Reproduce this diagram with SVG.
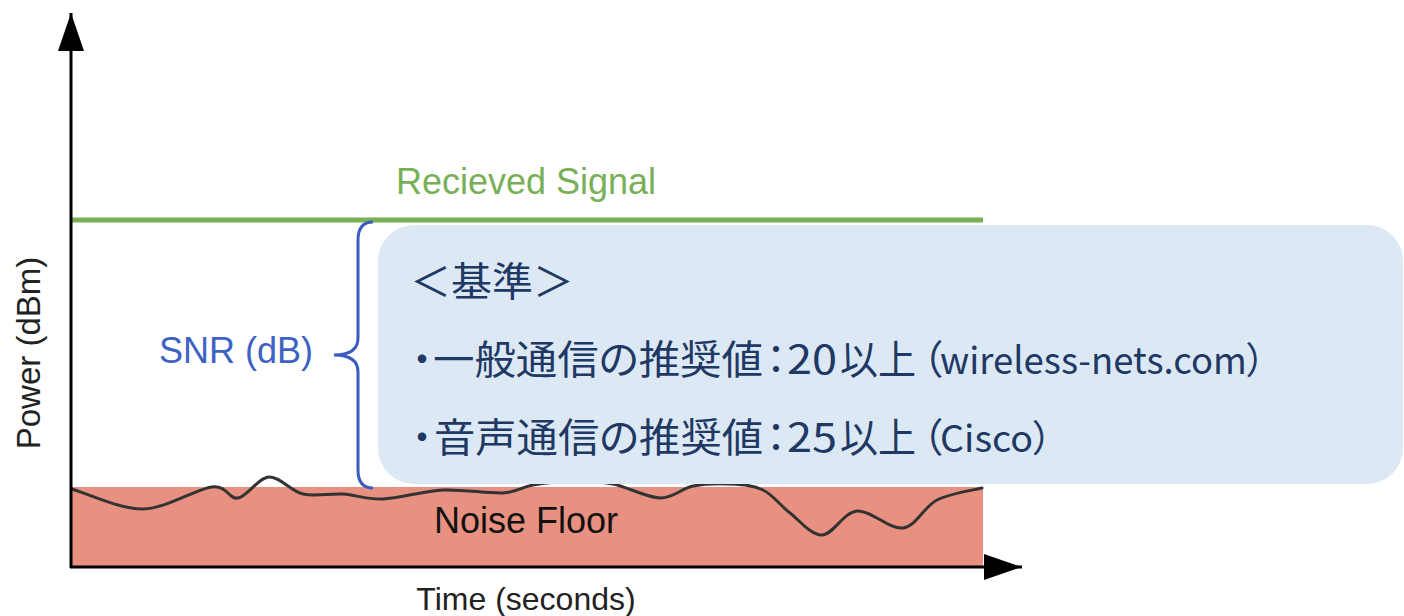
<svg xmlns="http://www.w3.org/2000/svg" width="1404" height="616" viewBox="0 0 1404 616">
<style>
.lbl{font-family:"Liberation Sans",Arial,sans-serif;}
.jp{font-family:"Noto Sans CJK JP","Noto Sans",sans-serif;font-size:40px;fill:#203864;}
.palt{font-feature-settings:"palt" 1;}
.lat{font-size:37px;}
.axis{stroke:#000;stroke-width:3;fill:none;}
</style>
<defs>
<marker id="arr" markerUnits="userSpaceOnUse" markerWidth="40" markerHeight="26" refX="38" refY="13" orient="auto">
<path d="M0,0 L38,13 L0,26 Z" fill="#000"/>
</marker>
</defs>
<rect width="1404" height="616" fill="#fff"/>
<g id="noise-floor">
<rect x="71" y="487" width="912" height="80" fill="#e89181"/>
<path d="M72,489 C83.8,492.3 119.7,509.3 143,509 C166.3,508.7 196.2,488.8 212,487 C227.8,485.2 228.5,499.7 238,498 C247.5,496.3 258.2,477.7 269,477 C279.8,476.3 290.7,491.2 303,494 C315.3,496.8 329.7,493.2 343,494 C356.3,494.8 366.3,499.7 383,499 C399.7,498.3 423,491 443,490 C463,489 488,493.8 503,493 C518,492.2 521,487 533,485 C545,483 561.7,481.2 575,481 C588.3,480.8 598.8,481.2 613,484 C627.2,486.8 646.7,497.7 660,498 C673.3,498.3 681.3,488.3 693,486 C704.7,483.7 718.3,483.3 730,484 C741.7,484.7 753,485.2 763,490 C773,494.8 780.2,505.5 790,513 C799.8,520.5 810.8,535.3 822,535 C833.2,534.7 843.5,512.2 857,511 C870.5,509.8 889.7,529.8 903,528 C916.3,526.2 923.8,506.7 937,500 C950.2,493.3 974.5,490 982,488" fill="none" stroke="#333" stroke-width="3" stroke-linejoin="round" stroke-linecap="round"/>
<text class="lbl" x="526" y="533" font-size="36" fill="#111" text-anchor="middle">Noise Floor</text>
</g>
<g id="signal">
<line x1="71" y1="220" x2="983" y2="220" stroke="#78b057" stroke-width="5"/>
<text class="lbl" x="526" y="194" font-size="36" fill="#78b057" text-anchor="middle">Recieved Signal</text>
</g>
<g id="connectors">
<line class="axis" x1="71" y1="568" x2="71" y2="13" marker-end="url(#arr)"/>
<line class="axis" x1="70" y1="567" x2="1022" y2="567" marker-end="url(#arr)"/>
<path d="M373,222 Q358,222 358,240 L358,338 Q358,355 334,355 Q358,355 358,372 L358,470 Q358,488 373,488" fill="none" stroke="#3a5bbf" stroke-width="3"/>
</g>
<g id="axis-labels">
<text class="lbl" x="526" y="610" font-size="32" fill="#222" text-anchor="middle">Time (seconds)</text>
<text class="lbl" transform="translate(40,353) rotate(-90)" x="0" y="0" font-size="33" fill="#222" text-anchor="middle">Power (dBm)</text>
</g>
<g id="snr">
<text class="lbl" x="236" y="363" font-size="36" fill="#3d62c4" text-anchor="middle">SNR (dB)</text>
</g>
<g id="callout">
<rect x="378" y="225" width="1025" height="259" rx="36" ry="36" fill="#dde8f5"/>
<text class="jp" y="296"><tspan x="410" textLength="164" lengthAdjust="spacingAndGlyphs">＜基準＞</tspan></text>
<text class="jp palt" y="374"><tspan x="412">・</tspan><tspan x="433" textLength="330" lengthAdjust="spacingAndGlyphs">一般通信の推奨値</tspan><tspan x="766">：</tspan><tspan x="787" textLength="50" lengthAdjust="spacingAndGlyphs">20</tspan><tspan x="840" textLength="76" lengthAdjust="spacingAndGlyphs">以上</tspan><tspan x="922">（</tspan><tspan class="lat" x="940" textLength="325" lengthAdjust="spacingAndGlyphs">wireless-nets.com）</tspan></text>
<text class="jp palt" y="452"><tspan x="412">・</tspan><tspan x="434" textLength="329" lengthAdjust="spacingAndGlyphs">音声通信の推奨値</tspan><tspan x="766">：</tspan><tspan x="787" textLength="50" lengthAdjust="spacingAndGlyphs">25</tspan><tspan x="840" textLength="76" lengthAdjust="spacingAndGlyphs">以上</tspan><tspan x="922">（</tspan><tspan class="lat" x="940" textLength="112" lengthAdjust="spacingAndGlyphs">Cisco）</tspan></text>
</g>
</svg>
